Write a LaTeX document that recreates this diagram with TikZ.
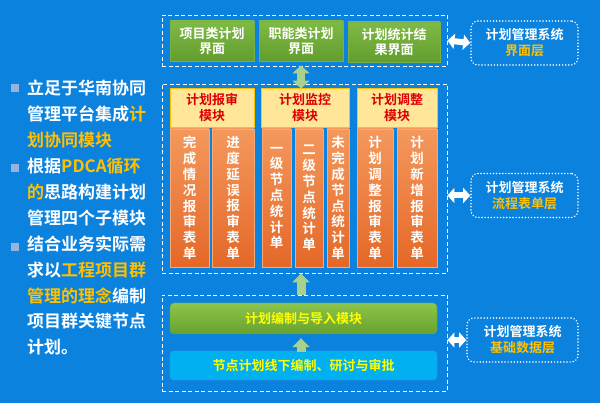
\documentclass[tikz,border=0pt]{standalone}
\usepackage{fontspec}
\setmainfont{Noto Sans CJK SC}[BoldFont={Noto Sans CJK SC Bold}]
\usetikzlibrary{arrows.meta}
\definecolor{bgblue}{RGB}{10,130,222}
\definecolor{gold}{RGB}{255,192,0}
\definecolor{baryellow}{RGB}{255,255,0}
\definecolor{headfill}{RGB}{255,230,153}
\definecolor{headred}{RGB}{220,0,0}
\definecolor{arrowgreen}{RGB}{169,209,142}
\definecolor{bulletblue}{RGB}{150,180,222}
\definecolor{uiline}{RGB}{120,175,70}
\definecolor{uitop}{RGB}{128,186,70}
\definecolor{uibottom}{RGB}{98,158,46}
\definecolor{formline}{RGB}{245,170,120}
\definecolor{formtop}{RGB}{244,152,92}
\definecolor{formbottom}{RGB}{228,104,40}
\definecolor{planline}{RGB}{110,170,55}
\definecolor{plantop}{RGB}{140,196,76}
\definecolor{planbottom}{RGB}{104,162,46}
\definecolor{cyanline}{RGB}{90,150,225}
\definecolor{cyanfill}{RGB}{0,176,240}
\newcommand{\gold}[1]{\textcolor{gold}{#1}}

\begin{document}
\begin{tikzpicture}[x=1pt,y=-1pt]
\tikzstyle{every node}+=[inner sep=0pt, font=\bfseries]
\tikzstyle{layer}=[draw=white, line width=0.9pt, dash pattern=on 4pt off 2.5pt, minimum width=285pt]
\tikzstyle{uibox}=[draw=uiline, top color=uitop, bottom color=uibottom, text=white, align=center, minimum height=40pt, font=\bfseries\fontsize{13}{15.5}\selectfont]
\tikzstyle{headbox}=[draw=gold, line width=0.8pt, fill=headfill, text=headred, align=center, minimum height=39pt, font=\bfseries\fontsize{13}{15.5}\selectfont]
\tikzstyle{formbox}=[draw=formline, top color=formtop, bottom color=formbottom, text=white, align=center, minimum height=138pt, font=\bfseries\fontsize{13.5}{15.8}\selectfont]
\tikzstyle{bar}=[rounded corners=4pt, minimum width=267pt, text=baryellow, font=\bfseries\fontsize{13}{15}\selectfont]
\tikzstyle{tag}=[draw=white, line width=1.6pt, dash pattern=on 0.1pt off 3pt, line cap=round, rounded corners=7pt, minimum height=44pt, align=center, text=white, font=\bfseries\fontsize{13}{16}\selectfont]
\tikzstyle{updown}=[draw=arrowgreen, line width=8pt, {Triangle[length=8pt,width=17pt]}-{Triangle[length=8pt,width=17pt]}]
\tikzstyle{upward}=[draw=arrowgreen, line width=9pt, -{Triangle[length=9pt,width=17pt]}]
\tikzstyle{link}=[draw=white, line width=6pt, {Triangle[length=7pt,width=15pt]}-{Triangle[length=7pt,width=15pt]}]
\tikzstyle{bullet}=[fill=bulletblue, minimum size=8pt]

\fill[bgblue] (0,0) rectangle (600,403);
\useasboundingbox (0,0) rectangle (600,403);

\node[bullet] (b1) at (14.5,88) {};
\node[bullet] (b2) at (14.5,168) {};
\node[bullet] (b3) at (14.5,247) {};
\node[anchor=north west, align=left, text=white, font=\bfseries\fontsize{17}{25.9}\selectfont] (intro) at (27,80) {立足于华南协同\\管理平台集成\gold{计}\\\gold{划协同模块}\\根据\gold{PDCA循环}\\\gold{的}思路构建计划\\管理四个子模块\\结合业务实际需\\求以\gold{工程项目群}\\\gold{管理的理念}编制\\项目群关键节点\\计划。};

\node[layer, minimum height=51pt] (ui) at (304.5,40.5) {};
\node[layer, minimum height=189pt] (flow) at (304.5,178.5) {};
\node[layer, minimum height=96pt] (base) at (304.5,343) {};

\node[uibox, minimum width=84pt] (u1) at (212,41) {项目类计划\\界面};
\node[uibox, minimum width=84pt] (u2) at (301,41) {职能类计划\\界面};
\node[uibox, minimum width=92pt] (u3) at (394,42) {计划统计结\\果界面};

\node[headbox, minimum width=84pt] (h1) at (212,107.5) {计划报审\\模块};
\node[headbox, minimum width=88pt] (h2) at (305,107.5) {计划监控\\模块};
\node[headbox, minimum width=80pt] (h3) at (397,107.5) {计划调整\\模块};

\node[formbox, minimum width=39pt] (f1) at (189.5,198) {完\\成\\情\\况\\报\\审\\表\\单};
\node[formbox, minimum width=42pt] (f2) at (233,198) {进\\度\\延\\误\\报\\审\\表\\单};
\node[formbox, minimum width=29pt] (f3) at (276.5,198) {一\\级\\节\\点\\统\\计\\单};
\node[formbox, minimum width=28pt] (f4) at (309,198) {二\\级\\节\\点\\统\\计\\单};
\node[formbox, minimum width=22pt] (f5) at (338,198) {未\\完\\成\\节\\点\\统\\计\\单};
\node[formbox, minimum width=36pt] (f6) at (375,198) {计\\划\\调\\整\\报\\审\\表\\单};
\node[formbox, minimum width=40pt] (f7) at (417,198) {计\\划\\新\\增\\报\\审\\表\\单};

\node[bar, draw=planline, top color=plantop, bottom color=planbottom, minimum height=31pt] (plan) at (303.5,318.5) {计划编制与导入模块};
\node[bar, draw=cyanline, fill=cyanfill, minimum height=29pt] (offline) at (303.5,365.5) {节点计划线下编制、研讨与审批};

\node[tag, minimum width=107pt] (t1) at (524.5,43) {计划管理系统\\\gold{界面层}};
\node[tag, minimum width=107pt] (t2) at (524.5,195.5) {计划管理系统\\\gold{流程表单层}};
\node[tag, minimum width=111pt] (t3) at (522.5,340) {计划管理系统\\\gold{基础数据层}};

\draw[updown] ([yshift=1pt]ui.south -| u2.south) -- ([yshift=-5pt]flow.north -| u2.south);
\draw[upward] (base.north -| u2.south) -- (flow.south -| u2.south);
\draw[upward] ([yshift=-1pt]offline.north -| u2.south) -- ([yshift=-4pt]plan.south -| u2.south);
\draw[link] (ui.east) -- (t1.west);
\draw[link] (flow.east |- t2.west) -- (t2.west);
\draw[link] (base.east |- t3.west) -- (t3.west);
\end{tikzpicture}
\end{document}
